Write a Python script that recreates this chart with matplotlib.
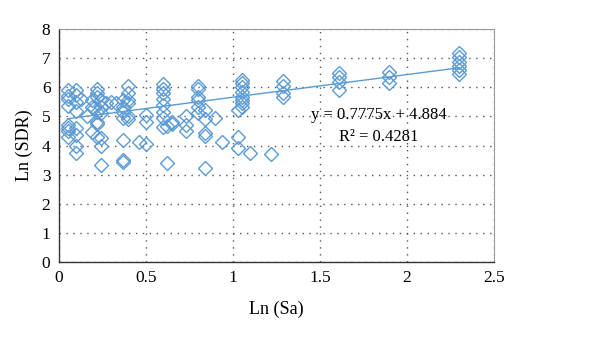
import matplotlib.pyplot as plt
import numpy as np

plt.rcParams['font.family'] = ['Liberation Serif', 'DejaVu Serif']

# Ln(Sa) and Ln(SDR) values
ln_sa = [0.05, 0.05, 0.05, 0.05, 0.05, 0.05, 0.05, 0.05,
         0.10, 0.10, 0.10, 0.10, 0.10, 0.10, 0.10, 0.10,
         0.13, 0.16, 0.19, 0.19, 0.19, 0.20,
         0.22, 0.22, 0.22, 0.22, 0.22, 0.22, 0.22,
         0.24, 0.24, 0.24, 0.24, 0.24, 0.24,
         0.27, 0.30, 0.33,
         0.37, 0.37, 0.37, 0.37, 0.37, 0.37, 0.37,
         0.40, 0.40, 0.40, 0.40, 0.40, 0.40,
         0.46, 0.50, 0.50, 0.50,
         0.60, 0.60, 0.60, 0.60, 0.60, 0.60, 0.60, 0.60,
         0.62, 0.62, 0.65, 0.65,
         0.73, 0.73, 0.73,
         0.80, 0.80, 0.80, 0.80, 0.80, 0.80,
         0.84, 0.84, 0.84, 0.84, 0.84,
         0.90, 0.94,
         1.03, 1.03, 1.03,
         1.05, 1.05, 1.05, 1.05, 1.05, 1.05, 1.05, 1.05,
         1.10, 1.22,
         1.29, 1.29, 1.29, 1.29,
         1.61, 1.61, 1.61, 1.61,
         1.90, 1.90, 1.90,
         2.30, 2.30, 2.30, 2.30, 2.30, 2.30]
ln_sdr = [5.90, 5.70, 5.60, 5.35, 4.70, 4.60, 4.50, 4.30,
          5.90, 5.75, 5.50, 5.20, 4.60, 4.35, 4.00, 3.75,
          5.60, 5.02, 5.57, 5.34, 4.48, 5.30,
          5.93, 5.80, 5.68, 5.17, 4.82, 4.74, 4.31,
          5.57, 5.34, 5.13, 4.25, 3.97, 3.34,
          5.45, 5.50, 5.45,
          5.57, 5.34, 5.17, 4.94, 4.19, 3.51, 3.42,
          6.05, 5.80, 5.57, 5.45, 5.00, 4.91,
          4.14, 5.05, 4.82, 4.06,
          6.11, 5.93, 5.82, 5.60, 5.39, 5.17, 4.94, 4.65,
          4.67, 3.39, 4.82, 4.74,
          5.00, 4.71, 4.51,
          6.05, 5.93, 5.68, 5.57, 5.34, 5.13,
          5.22, 4.90, 4.45, 4.33, 3.22,
          4.94, 4.14,
          5.22, 4.31, 3.91,
          6.27, 6.14, 6.00, 5.85, 5.68, 5.57, 5.45, 5.34,
          3.74, 3.70,
          6.23, 6.05, 5.80, 5.68,
          6.48, 6.34, 6.19, 5.91,
          6.54, 6.34, 6.16,
          7.19, 7.05, 6.88, 6.73, 6.59, 6.46]

slope = 0.7775
intercept = 4.884
r2 = 0.4281

blue = '#5B9BD5'

fig = plt.figure(figsize=(6, 3.39), dpi=100)
ax = fig.add_axes([0.098, 0.227, 0.725, 0.687])

ax.plot(ln_sa, ln_sdr, linestyle='none', marker='D', markersize=6.8,
        markerfacecolor='none', markeredgecolor=blue, markeredgewidth=1.0, zorder=3)

# linear trend line over the data range
xs = np.array([min(ln_sa), max(ln_sa)])
ax.plot(xs, slope * xs + intercept, color=blue, linewidth=1.0, zorder=2)

ax.text(1.84, 5.05, 'y = %.4fx + %.3f' % (slope, intercept), ha='center', va='center', fontsize=12)
ax.text(1.84, 4.31, 'R\u00b2 = %.4f' % r2, ha='center', va='center', fontsize=12)

ax.set_xlim(0, 2.5)
ax.set_ylim(0, 8)
ax.set_xticks([0, 0.5, 1, 1.5, 2, 2.5])
ax.set_xticklabels(['0', '0.5', '1', '1.5', '2', '2.5'])
ax.set_yticks(range(9))
ax.tick_params(length=0, labelsize=12.5, pad=6)
ax.grid(True, color='#555555', linestyle=(0, (1, 4)), linewidth=1.0)
ax.set_axisbelow(True)

for side in ['left', 'bottom']:
    ax.spines[side].set_color('#333333')
    ax.spines[side].set_linewidth(1.0)
for side in ['top', 'right']:
    ax.spines[side].set_color('#999999')
    ax.spines[side].set_linewidth(0.8)

ax.set_xlabel('Ln (Sa)', fontsize=13, labelpad=10)
ax.set_ylabel('Ln (SDR)', fontsize=13, labelpad=6)

fig.savefig('out.png', dpi=100)
